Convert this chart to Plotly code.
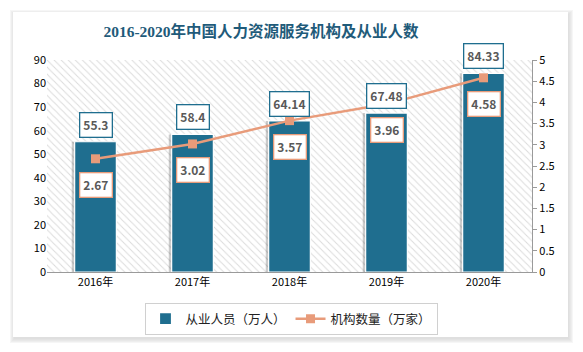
import plotly.graph_objects as go

years = ["2016年", "2017年", "2018年", "2019年", "2020年"]
staff = [55.3, 58.4, 64.14, 67.48, 84.33]
orgs = [2.67, 3.02, 3.57, 3.96, 4.58]
staff_name = "从业人员（万人）"
orgs_name = "机构数量（万家）"
title = "2016-2020年中国人力资源服务机构及从业人数"

BLUE = "#1F6E8F"
SALMON = "#E89B7A"
FONT = "Noto Sans CJK SC"

W, H = 583, 352
L, R, T, B = 47, 532, 60, 272


def px(x):
    return (x - L) / (R - L)


def py(y):
    return (B - y) / (B - T)


fig = go.Figure()

# hatched plot background
fig.add_trace(go.Bar(
    x=years, y=[90] * len(years), width=1, showlegend=False, hoverinfo="skip",
    marker=dict(color="rgba(255,255,255,0)", line=dict(width=0),
                pattern=dict(shape="\\", fgcolor="#b8b8b8", bgcolor="white",
                             size=5, solidity=0.2)),
))
# bar shadow
fig.add_trace(go.Bar(
    x=years, y=staff, width=0.43, offset=-0.245, showlegend=False, hoverinfo="skip",
    marker=dict(color="rgba(0,0,0,0.2)", line=dict(width=0)),
))
fig.add_trace(go.Bar(
    x=years, y=staff, name=staff_name, width=0.43,
    marker=dict(color=BLUE, line=dict(color="white", width=1.2)),
))
fig.add_trace(go.Scatter(
    x=years, y=orgs, name=orgs_name, yaxis="y2", mode="lines+markers",
    line=dict(color=SALMON, width=2.5),
    marker=dict(symbol="square", size=9, color=SALMON),
))

annotations = []
for yr, v in zip(years, staff):
    annotations.append(dict(
        x=yr, y=v, xref="x", yref="y", text=f"<b>{v:g}</b>", showarrow=False,
        yanchor="bottom", yshift=4, bgcolor="white", bordercolor=BLUE,
        borderwidth=1.3, borderpad=3, font=dict(family=FONT, size=12, color="#595959"),
    ))
for yr, v in zip(years, orgs):
    annotations.append(dict(
        x=yr, y=v, xref="x", yref="y2", text=f"<b>{v:g}</b>", showarrow=False,
        yanchor="top", yshift=-13, bgcolor="white", bordercolor=SALMON,
        borderwidth=1.3, borderpad=3, font=dict(family=FONT, size=12, color="#595959"),
    ))

shapes = []
# card shadow
for i, a in enumerate([0.035, 0.03, 0.025, 0.02, 0.015]):
    d = 5 - i
    shapes.append(dict(type="rect", xref="paper", yref="paper", layer="below",
                       x0=px(13 - d + 2), x1=px(568 + d), y0=py(337 + d + 1), y1=py(12 - d + 3),
                       fillcolor=f"rgba(0,0,0,{a})", line=dict(width=0)))
shapes.append(dict(type="rect", xref="paper", yref="paper", layer="below",
                   x0=px(13), x1=px(568), y0=py(337), y1=py(12),
                   fillcolor="white", line=dict(width=0)))

fig.update_layout(
    width=W, height=H,
    margin=dict(l=L, r=W - R, t=T, b=H - B),
    paper_bgcolor="white", plot_bgcolor="rgba(0,0,0,0)",
    barmode="overlay",
    font=dict(family=FONT, size=11, color="#000"),
    title=dict(text=f"<b>{title}</b>", x=261 / W, xanchor="center", y=1 - 32 / H, yanchor="middle",
               font=dict(family="Liberation Serif, Noto Sans CJK SC", size=15.5, color="#1F5B7A")),
    xaxis=dict(showgrid=False, showline=True, linecolor="#9a9a9a", linewidth=1.2,
               ticks="", tickfont=dict(size=11, color="#000"), fixedrange=True),
    yaxis=dict(range=[0, 90], dtick=10, showgrid=False, showline=False, zeroline=False,
               ticks="", tickfont=dict(size=11, color="#000")),
    yaxis2=dict(range=[0, 5], dtick=0.5, overlaying="y", side="right", showgrid=False,
                showline=True, linecolor="#9a9a9a", linewidth=1.2, ticks="outside",
                ticklen=4, tickcolor="#9a9a9a", zeroline=False,
                tickfont=dict(size=11, color="#000")),
    legend=dict(orientation="h", x=px(291), xanchor="center", y=py(319), yanchor="middle",
                bordercolor="#d0d0d0", borderwidth=1, bgcolor="white",
                font=dict(size=12.5, color="#222"), traceorder="normal", itemwidth=30),
    annotations=annotations, shapes=shapes, showlegend=True,
)

fig.write_html("out.html")
